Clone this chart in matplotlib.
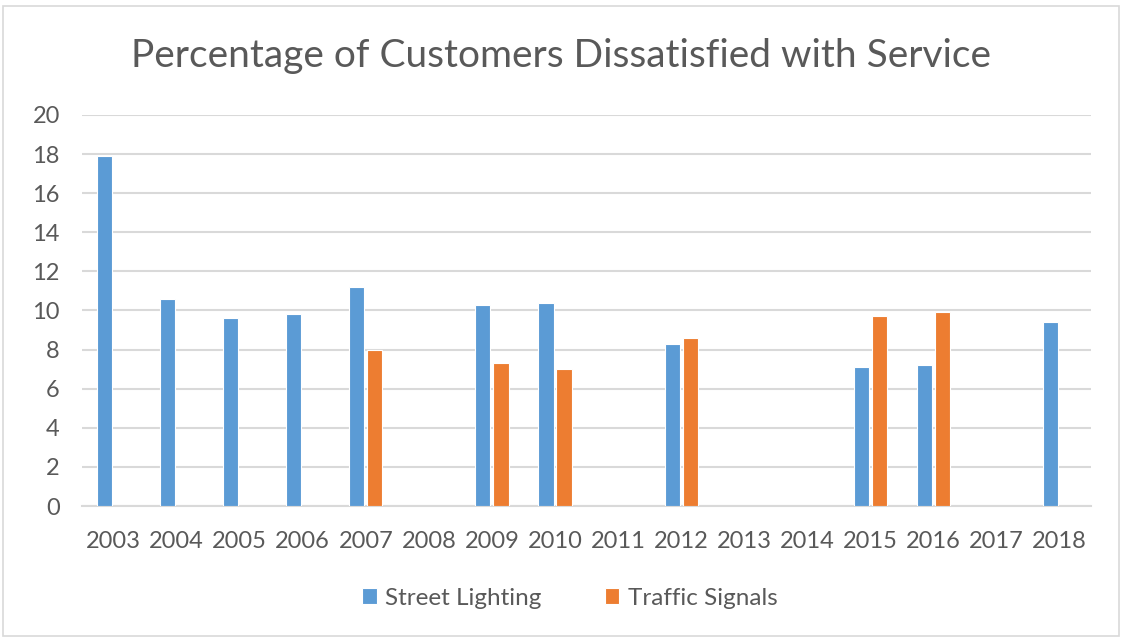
import numpy as np
import matplotlib.pyplot as plt
from matplotlib.patches import Rectangle

years = ["2003", "2004", "2005", "2006", "2007", "2008", "2009", "2010",
         "2011", "2012", "2013", "2014", "2015", "2016", "2017", "2018"]
street_lighting = [17.9, 10.6, 9.6, 9.8, 11.2, np.nan, 10.3, 10.4,
                   np.nan, 8.3, np.nan, np.nan, 7.1, 7.2, np.nan, 9.4]
traffic_signals = [np.nan, np.nan, np.nan, np.nan, 8.0, np.nan, 7.3, 7.0,
                   np.nan, 8.6, np.nan, np.nan, 9.7, 9.9, np.nan, np.nan]

blue = "#5b9bd5"
orange = "#ed7d31"
text_grey = "#595959"
grid_grey = "#d9d9d9"

plt.rcParams['font.family'] = ['Lato', 'DejaVu Sans']

fig = plt.figure(figsize=(11.22, 6.39), dpi=100)
ax = fig.add_axes([0.0731, 0.2081, 0.8993, 0.612])

x = np.arange(len(years))
w = 0.24
off = 0.143
ax.bar(x - off, street_lighting, w, color=blue, edgecolor="white",
       linewidth=0.8, label="Street Lighting", zorder=3)
ax.bar(x + off, traffic_signals, w, color=orange, edgecolor="white",
       linewidth=0.8, label="Traffic Signals", zorder=3)

ax.set_xlim(-0.5, len(years) - 0.5)
ax.set_ylim(0, 20)
ax.set_yticks(range(0, 21, 2))
ax.set_xticks(x)
ax.set_xticklabels(years)
ax.grid(axis="y", color=grid_grey, linewidth=1.5, zorder=0)
for s in ["top", "right", "left"]:
    ax.spines[s].set_visible(False)
ax.spines["bottom"].set_color(grid_grey)
ax.spines["bottom"].set_linewidth(1.5)
ax.tick_params(axis="both", length=0, labelsize=17, labelcolor=text_grey)
ax.tick_params(axis="x", pad=18)
ax.tick_params(axis="y", pad=16)

fig.text(0.5, 0.912, "Percentage of Customers Dissatisfied with Service",
         ha="center", va="center", fontsize=28, color=text_grey)

fig.legend(loc="center", bbox_to_anchor=(0.508, 0.064), ncol=2, frameon=False,
           fontsize=17.5, labelcolor=text_grey, handlelength=0.6,
           handleheight=0.6, columnspacing=2.6, handletextpad=0.35)

fig.patches.append(Rectangle((0.003, 0.005), 0.994, 0.985,
                             transform=fig.transFigure, fill=False,
                             edgecolor="#d9d9d9", linewidth=1.2))

fig.savefig("out.png", dpi=100)
